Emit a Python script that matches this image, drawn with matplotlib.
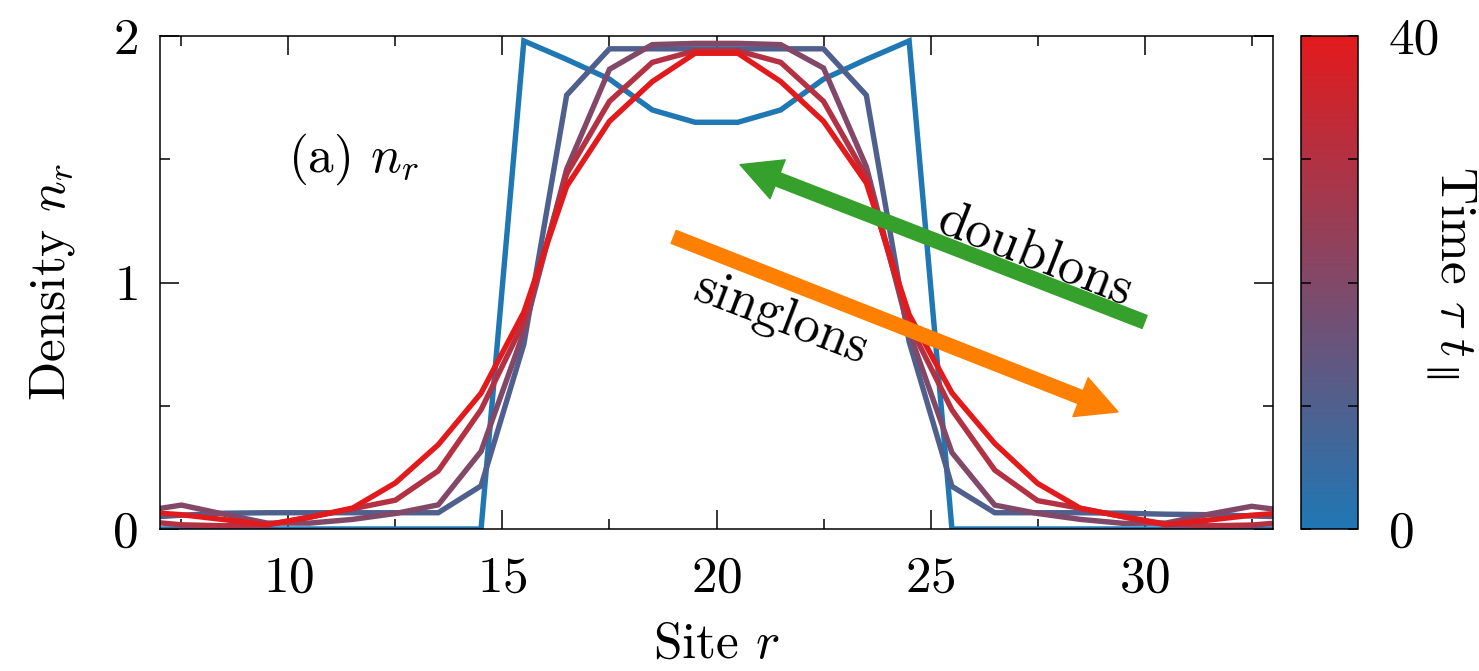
import matplotlib
matplotlib.use('Agg')
import matplotlib.pyplot as plt
from matplotlib.colors import LinearSegmentedColormap, Normalize
from matplotlib.cm import ScalarMappable
from matplotlib.patches import FancyArrowPatch

plt.rcParams['font.family'] = 'serif'
plt.rcParams['font.serif'] = ['cmr10']
plt.rcParams['mathtext.fontset'] = 'cm'
plt.rcParams['axes.formatter.use_mathtext'] = True

# lattice sites (half-integer positions), outermost ones are clipped by xlim
sites = [6.5, 7.5, 8.5, 9.5, 10.5, 11.5, 12.5, 13.5, 14.5, 15.5, 16.5, 17.5, 18.5, 19.5,
         20.5, 21.5, 22.5, 23.5, 24.5, 25.5, 26.5, 27.5, 28.5, 29.5, 30.5, 31.5, 32.5, 33.5]
times = [0, 10, 20, 30, 40]

n_t0 = [0.0, 0.0, 0.0, 0.0, 0.0, 0.0, 0.0, 0.0, 0.0, 1.98, 1.905, 1.825, 1.70, 1.65,
        1.65, 1.70, 1.825, 1.905, 1.98, 0.0, 0.0, 0.0, 0.0, 0.0, 0.0, 0.0, 0.0, 0.0]
n_t10 = [0.045, 0.056, 0.064, 0.066, 0.066, 0.066, 0.066, 0.066, 0.175, 0.75, 1.76, 1.948, 1.948, 1.948,
         1.948, 1.948, 1.948, 1.76, 0.76, 0.173, 0.066, 0.066, 0.066, 0.064, 0.060, 0.058, 0.053, 0.048]
n_t20 = [0.070, 0.097, 0.060, 0.024, 0.024, 0.039, 0.063, 0.098, 0.315, 0.80, 1.46, 1.865, 1.965, 1.97,
         1.97, 1.965, 1.87, 1.47, 0.80, 0.31, 0.097, 0.063, 0.039, 0.023, 0.024, 0.060, 0.092, 0.070]
n_t30 = [0.033, 0.017, 0.013, 0.017, 0.048, 0.082, 0.117, 0.236, 0.484, 0.84, 1.44, 1.735, 1.893, 1.94,
         1.94, 1.893, 1.735, 1.43, 0.83, 0.483, 0.239, 0.115, 0.084, 0.050, 0.020, 0.013, 0.016, 0.030]
n_t40 = [0.070, 0.058, 0.038, 0.017, 0.048, 0.085, 0.187, 0.342, 0.551, 0.88, 1.39, 1.654, 1.815, 1.93,
         1.93, 1.815, 1.654, 1.404, 0.87, 0.552, 0.347, 0.185, 0.084, 0.050, 0.017, 0.036, 0.056, 0.068]

x_ticks = [10, 15, 20, 25, 30]
y_ticks = [0, 1, 2]

cmap = LinearSegmentedColormap.from_list('bluered', ['#1f77b4', '#e31a1c'])
norm = Normalize(0, 40)

fig = plt.figure(figsize=(14.79, 6.71), dpi=100)
ax = fig.add_axes([160 / 1479, 142 / 671, 1113 / 1479, 493 / 671])
cax = fig.add_axes([1301 / 1479, 142 / 671, 57 / 1479, 493 / 671])

for t, n in zip(times, [n_t0, n_t10, n_t20, n_t30, n_t40]):
    ax.plot(sites, n, color=cmap(norm(t)), lw=3.9, solid_joinstyle='miter', zorder=2)

ax.set_xlim(7, 33)
ax.set_ylim(0, 2)
ax.set_xticks(x_ticks)
ax.set_xticks([7.5, 12.5, 17.5, 22.5, 27.5, 32.5], minor=True)
ax.set_yticks(y_ticks)
ax.set_yticks([0.5, 1.5], minor=True)
ax.tick_params(which='both', direction='in', top=True, right=True, labelsize=37, width=1.1)
ax.tick_params(which='major', length=14)
ax.tick_params(axis='x', which='major', pad=19)
ax.tick_params(axis='y', which='major', pad=16)
ax.tick_params(which='minor', length=7)
for s in ax.spines.values():
    s.set_linewidth(1.1)

ax.set_xlabel(r'Site $r$', fontsize=37, labelpad=15)
ax.set_ylabel(r'Density $n_r$', fontsize=37, labelpad=25)

ax.text(10.0, 1.50, r'(a) $n_r$', fontsize=37, ha='left', va='center')


def add_arrow(tail, tip, color):
    arr = FancyArrowPatch(tail, tip, arrowstyle='simple,head_length=2.9,head_width=3.0,tail_width=1.0',
                          mutation_scale=10, color=color, shrinkA=0, shrinkB=0, zorder=5)
    ax.add_patch(arr)


add_arrow((30.0, 0.84), (20.55, 1.478), '#35a02c')
add_arrow((19.0, 1.185), (29.38, 0.475), '#ff7f00')
ax.text(27.44, 1.11, 'doublons', fontsize=38, rotation=-21.5, rotation_mode='anchor',
        ha='center', va='center', zorder=6)
ax.text(21.49, 0.85, 'singlons', fontsize=38, rotation=-21.0, rotation_mode='anchor',
        ha='center', va='center', zorder=6)

sm = ScalarMappable(norm=norm, cmap=cmap)
cb = fig.colorbar(sm, cax=cax)
cb.set_ticks([0, 10, 20, 30, 40])
cb.set_ticklabels(['0', '', '', '', '40'])
cax.tick_params(direction='in', left=True, right=True, length=7, width=1.1, labelsize=37, pad=22)
cb.outline.set_linewidth(1.1)
fig.text(1450 / 1479, 1 - 272 / 671, r'Time $\tau\ t_\parallel$', fontsize=37, rotation=270,
         ha='center', va='center')

fig.savefig('out.png', dpi=100)
